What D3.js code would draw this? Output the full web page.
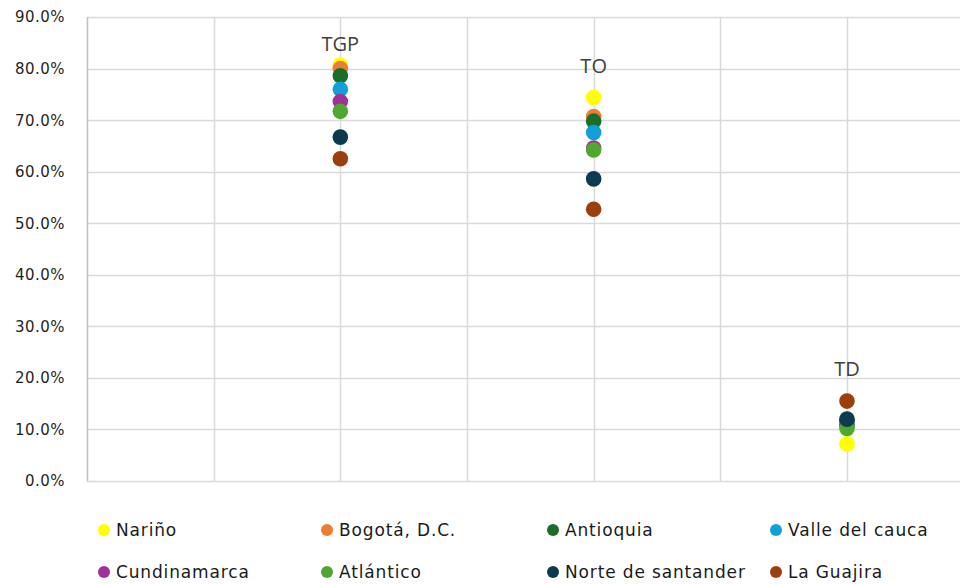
<!DOCTYPE html>
<html>
<head>
<meta charset="utf-8">
<script src="https://cdn.jsdelivr.net/npm/d3@7"></script>
<style>
  html, body { margin: 0; padding: 0; background: #fff; }
  svg { display: block; font-family: "DejaVu Sans", sans-serif; }
</style>
</head>
<body>
<div id="chart"></div>
<script>
// categories (x positions 1, 2, 3)
const categories = ["TGP", "TO", "TD"];
const categoryX = [1, 2, 3];
// where the category label sits (in % units)
const categoryLabelY = [84.8, 80.4, 21.8];

const seriesNames = ["Nariño", "Bogotá, D.C.", "Antioquia", "Valle del cauca",
  "Cundinamarca", "Atlántico", "Norte de santander", "La Guajira"];
const seriesColors = ["#ffff00", "#ed7d31", "#1b6e2a", "#119fd8",
  "#a0319b", "#4ea72e", "#0e3a50", "#9c3f0f"];

// values in %, per series: [TGP, TO, TD]
const narino = [80.7, 74.4, 7.2];
const bogota = [80.0, 70.7, 10.6];
const antioquia = [78.6, 69.8, 11.0];
const valle = [76.0, 67.6, 11.5];
const cundinamarca = [73.6, 64.6, 11.8];
const atlantico = [71.7, 64.2, 10.2];
const norte = [66.7, 58.6, 12.0];
const guajira = [62.5, 52.7, 15.5];

const seriesValues = [narino, bogota, antioquia, valle, cundinamarca, atlantico, norte, guajira];

const yTicks = [0, 10, 20, 30, 40, 50, 60, 70, 80, 90];
const xGrid = [0, 0.5, 1, 1.5, 2, 2.5, 3];

const width = 960, height = 584;
const margin = { left: 87, top: 17, bottom: 103 };

const svg = d3.select("#chart").append("svg")
  .attr("width", width)
  .attr("height", height);

const x = d3.scaleLinear().domain([0, 3.5]).range([margin.left, margin.left + 3.5 * 253.33]);
const y = d3.scaleLinear().domain([0, 90]).range([height - margin.bottom, margin.top]);

// horizontal gridlines
svg.append("g")
  .selectAll("line")
  .data(yTicks)
  .join("line")
  .attr("x1", margin.left)
  .attr("x2", width)
  .attr("y1", d => Math.round(y(d)) + 0.5)
  .attr("y2", d => Math.round(y(d)) + 0.5)
  .attr("stroke", "#d9d9d9")
  .attr("stroke-width", 1.5);

// vertical gridlines
svg.append("g")
  .selectAll("line")
  .data(xGrid.slice(1))
  .join("line")
  .attr("x1", d => Math.round(x(d)) + 0.5)
  .attr("x2", d => Math.round(x(d)) + 0.5)
  .attr("y1", y(90))
  .attr("y2", y(0))
  .attr("stroke", "#d9d9d9")
  .attr("stroke-width", 1.5);

// y axis line
svg.append("line")
  .attr("x1", margin.left + 0.5)
  .attr("x2", margin.left + 0.5)
  .attr("y1", y(90))
  .attr("y2", y(0))
  .attr("stroke", "#bfbfbf")
  .attr("stroke-width", 1.5);

// y tick labels
svg.append("g")
  .selectAll("text")
  .data(yTicks)
  .join("text")
  .attr("x", 65)
  .attr("y", d => y(d))
  .attr("dy", "0.36em")
  .attr("text-anchor", "end")
  .attr("font-size", 15)
  .attr("letter-spacing", 0.45)
  .attr("fill", "#1f1f1f")
  .text(d => d.toFixed(1) + "%");

// category labels
svg.append("g")
  .selectAll("text")
  .data(categories)
  .join("text")
  .attr("x", (d, i) => x(categoryX[i]))
  .attr("y", (d, i) => y(categoryLabelY[i]))
  .attr("dy", "0.35em")
  .attr("text-anchor", "middle")
  .attr("font-family", "'Open Sans', sans-serif")
  .attr("font-size", 20)
  .attr("fill", "#404040")
  .text(d => d);

// points, series drawn in legend order
seriesValues.forEach((vals, s) => {
  svg.append("g")
    .selectAll("circle")
    .data(vals)
    .join("circle")
    .attr("cx", (d, i) => x(categoryX[i]))
    .attr("cy", d => y(d))
    .attr("r", 7.8)
    .attr("fill", seriesColors[s]);
});

// legend
const legendCols = [104, 327, 553, 776];
const legendRows = [530, 572];
const legend = svg.append("g")
  .selectAll("g")
  .data(seriesNames)
  .join("g")
  .attr("transform", (d, i) => `translate(${legendCols[i % 4]},${legendRows[Math.floor(i / 4)]})`);

legend.append("circle")
  .attr("r", 6)
  .attr("fill", (d, i) => seriesColors[i]);

legend.append("text")
  .attr("x", 12)
  .attr("dy", "0.36em")
  .attr("font-size", 17)
  .attr("letter-spacing", 0.85)
  .attr("fill", "#1a1a1a")
  .text(d => d);
</script>
</body>
</html>
